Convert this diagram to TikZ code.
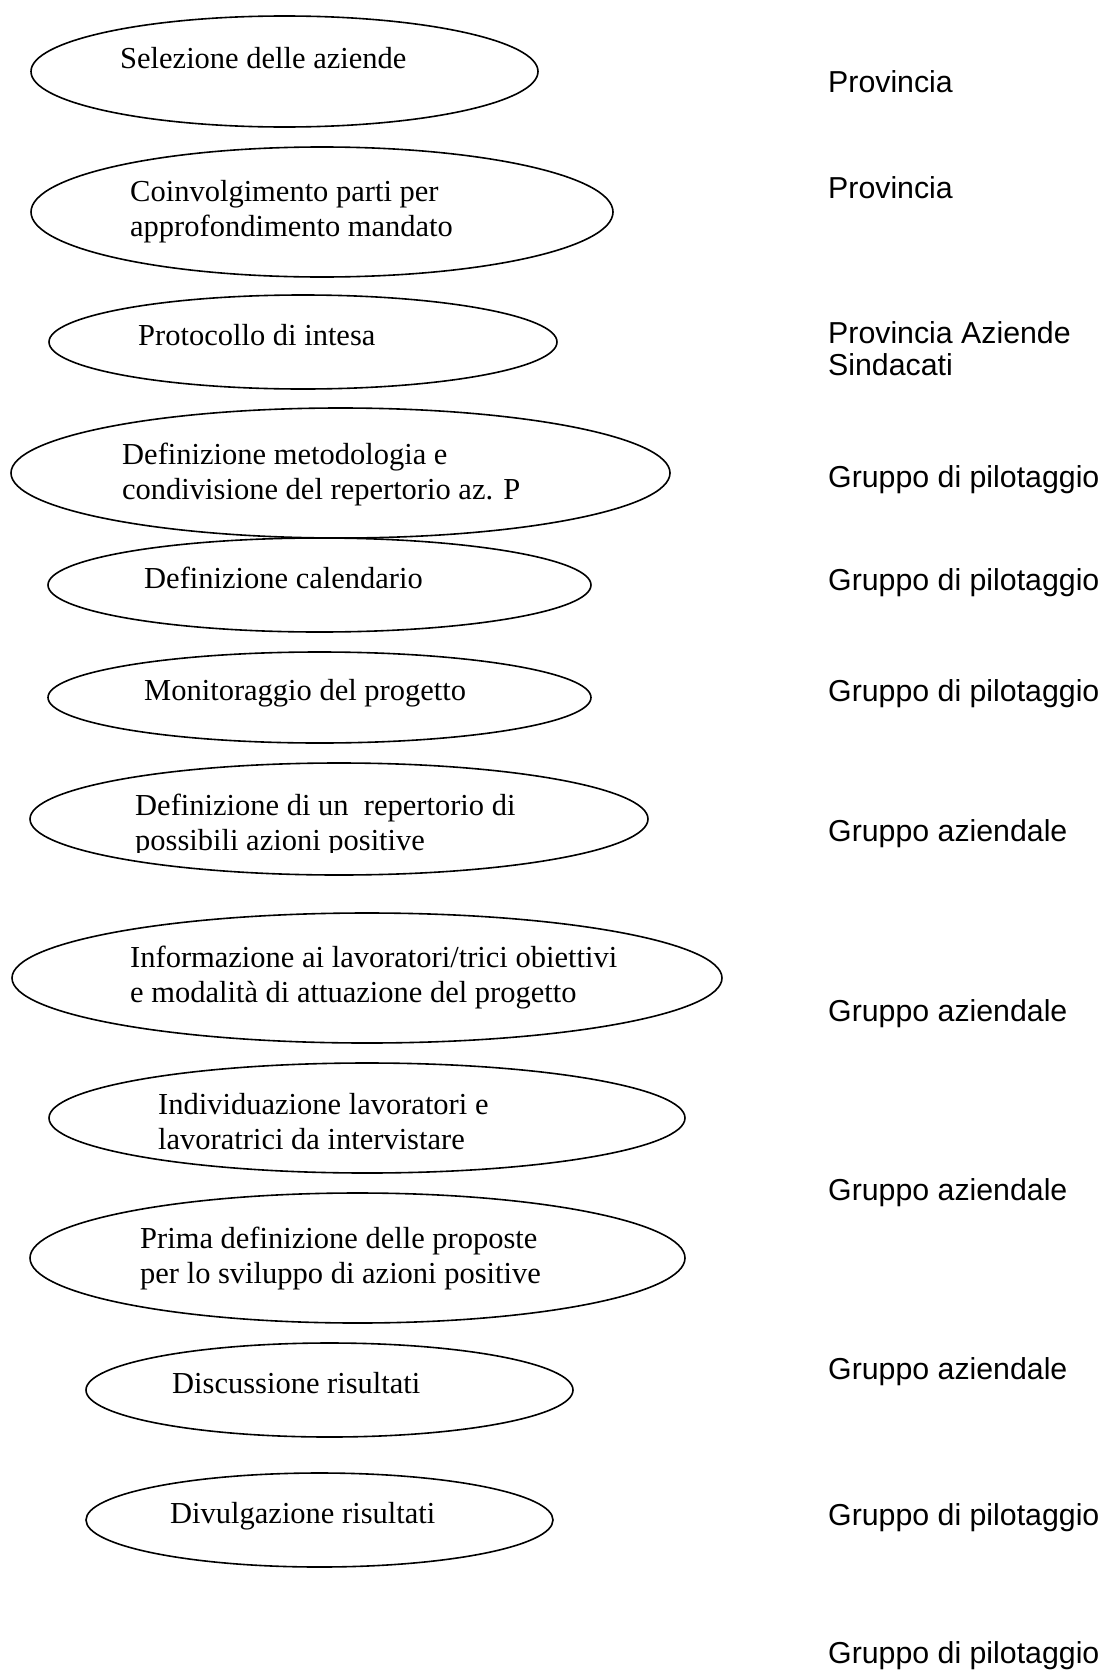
\documentclass[tikz,border=0pt]{standalone}
\usepackage{fontspec}
\setmainfont{Liberation Serif}
\newfontfamily\arialfont{Liberation Sans}
\usetikzlibrary{shapes.geometric}

\tikzset{
  fase/.style={draw, ellipse, line width=1.6pt, inner sep=0pt},
  voce/.style={anchor=base west, align=left, inner sep=0pt, font=\fontsize{30.5}{35}\selectfont},
  ente/.style={anchor=base west, align=left, inner sep=0pt, font=\arialfont\fontsize{30.3}{32}\selectfont}
}

\begin{document}
\begin{tikzpicture}[x=1pt,y=-1pt]
				\useasboundingbox (0,0) rectangle (1109,1673);
				\node[fase, minimum width=507, minimum height=111] (fase1) at (284.5,71.5) {};
				\node[fase, minimum width=582, minimum height=130] (fase2) at (322,212) {};
				\node[fase, minimum width=508, minimum height=94] (fase3) at (303,342) {};
				\node[fase, minimum width=659, minimum height=130] (fase4) at (340.5,473) {};
				\node[fase, minimum width=543, minimum height=94] (fase5) at (319.5,585) {};
				\node[fase, minimum width=543, minimum height=91] (fase6) at (319.5,697.5) {};
				\node[fase, minimum width=618, minimum height=112] (fase7) at (339,819) {};
				\node[fase, minimum width=710, minimum height=130] (fase8) at (367,978) {};
				\node[fase, minimum width=636, minimum height=110] (fase9) at (367,1118) {};
				\node[fase, minimum width=655, minimum height=130] (fase10) at (357.5,1258) {};
				\node[fase, minimum width=487, minimum height=94] (fase11) at (329.5,1390) {};
				\node[fase, minimum width=467, minimum height=94] (fase12) at (319.5,1520) {};
				\node[voce] (voce1) at (120,68) {Selezione delle aziende};
				\node[voce] (voce2) at (130,236) {Coinvolgimento parti per\\approfondimento mandato};
				\node[voce] (voce3) at (138,345) {Protocollo di intesa};
				\node[voce] (voce4) at (122,499) {Definizione metodologia e\\condivisione del repertorio az. P};
				\node[voce] (voce5) at (144,588) {Definizione calendario};
				\node[voce] (voce6) at (144,700) {Monitoraggio del progetto};
				\begin{scope}
				\clip (0,760) rectangle (1109,852);
				\node[voce] (voce7) at (135,850) {Definizione di un~ repertorio di\\possibili azioni positive};
				\end{scope}
				\node[voce] (voce8) at (130,1002) {Informazione ai lavoratori/trici obiettivi\\e modalità di attuazione del progetto};
				\node[voce] (voce9) at (158,1149) {Individuazione lavoratori e\\lavoratrici da intervistare};
				\node[voce] (voce10) at (140,1283) {Prima definizione delle proposte\\per lo sviluppo di azioni positive};
				\node[voce] (voce11) at (172,1393) {Discussione risultati};
				\node[voce] (voce12) at (170,1523) {Divulgazione risultati};
				\node[ente] (ente1) at (828,92) {Provincia};
				\node[ente] (ente2) at (828,198) {Provincia};
				\node[ente] (ente3) at (828,375) {Provincia Aziende\\Sindacati};
				\node[ente] (ente4) at (828,487) {Gruppo di pilotaggio};
				\node[ente] (ente5) at (828,590) {Gruppo di pilotaggio};
				\node[ente] (ente6) at (828,701) {Gruppo di pilotaggio};
				\node[ente] (ente7) at (828,841) {Gruppo aziendale};
				\node[ente] (ente8) at (828,1021) {Gruppo aziendale};
				\node[ente] (ente9) at (828,1200) {Gruppo aziendale};
				\node[ente] (ente10) at (828,1379) {Gruppo aziendale};
				\node[ente] (ente11) at (828,1525) {Gruppo di pilotaggio};
				\node[ente] (ente12) at (828,1663) {Gruppo di pilotaggio};
\end{tikzpicture}
\end{document}
